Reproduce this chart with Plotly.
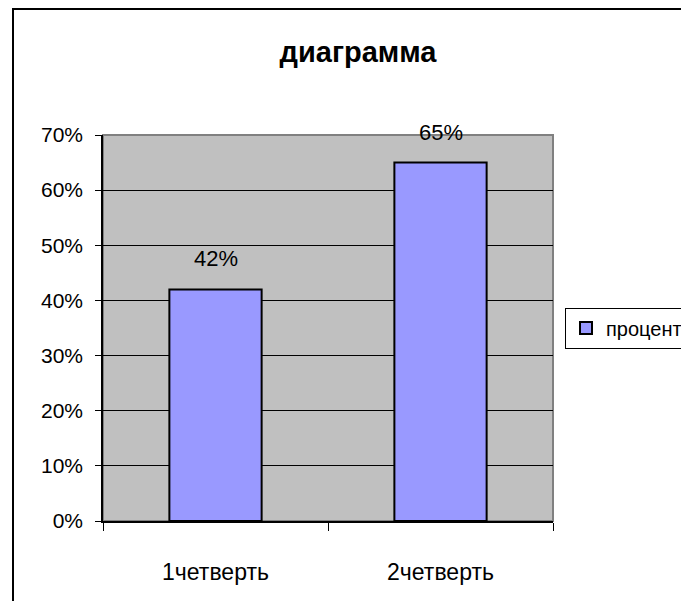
import plotly.graph_objects as go

categories = ["1четверть", "2четверть"]
values = [0.42, 0.65]
series_name = "процент"
title_text = "диаграмма"
y_ticks = [0, 0.1, 0.2, 0.3, 0.4, 0.5, 0.6, 0.7]

FONT = "Liberation Sans, Arial, sans-serif"

# page body has an 8px margin, so the figure is offset by 8px
OFF = 8
L, R, T, B = 103 - OFF, 136, 135 - OFF, 80

fig = go.Figure()
fig.add_trace(go.Bar(
    x=categories, y=values, name=series_name,
    marker=dict(color="#9999FF", line=dict(color="black", width=2)),
    width=0.41, showlegend=True,
))

for c, v in zip(categories, values):
    fig.add_annotation(x=c, y=v, text=f"{round(v*100)}%", showarrow=False,
                       yanchor="bottom", yshift=16,
                       font=dict(family=FONT, size=22, color="black"))

W, H = 689 - OFF, 601 - OFF
fig.update_layout(
    width=W, height=H,
    margin=dict(l=L, r=R, t=T, b=B, autoexpand=False),
    paper_bgcolor="white", plot_bgcolor="#C0C0C0",
    title=dict(text="<b>" + title_text + "</b>", x=(358 - OFF)/W, xanchor="center",
               y=1-(52 - OFF)/H, yanchor="middle",
               font=dict(family=FONT, size=29, color="black")),
    font=dict(family=FONT, size=21, color="black"),
    showlegend=True,
    legend=dict(x=(565-103)/450, y=(521-328)/386, xanchor="left", yanchor="middle",
                bgcolor="white", bordercolor="black", borderwidth=1,
                font=dict(family=FONT, size=20, color="black"),
                itemwidth=30, tracegroupgap=0),
    bargap=0.59,
)
fig.update_xaxes(
    showline=True, linecolor="black", linewidth=1.5,
    ticks="outside", tickson="boundaries", ticklen=8, tickcolor="black",
    showgrid=False, ticklabelstandoff=30, automargin=False,
    tickfont=dict(family=FONT, size=23, color="black"),
)
fig.update_yaxes(
    range=[0, 0.7], tickvals=y_ticks, tickformat=".0%",
    showline=True, linecolor="black", linewidth=1.5,
    ticks="outside", ticklen=6, tickcolor="black",
    showgrid=True, gridcolor="black", gridwidth=1,
    zeroline=False, ticklabelstandoff=8, automargin=False,
    tickfont=dict(family=FONT, size=21, color="black"),
)
# plot-area border (top/right gray)
fig.add_shape(type="rect", xref="paper", yref="paper", x0=0, y0=0, x1=1, y1=1,
              line=dict(color="#808080", width=2), layer="below")
# outer chart frame
fig.add_shape(type="rect", xref="paper", yref="paper",
              x0=(13-103)/450, x1=(720-103)/450, y0=(521-640)/386, y1=(521-9)/386,
              line=dict(color="black", width=2))

fig.write_html("out.html")
